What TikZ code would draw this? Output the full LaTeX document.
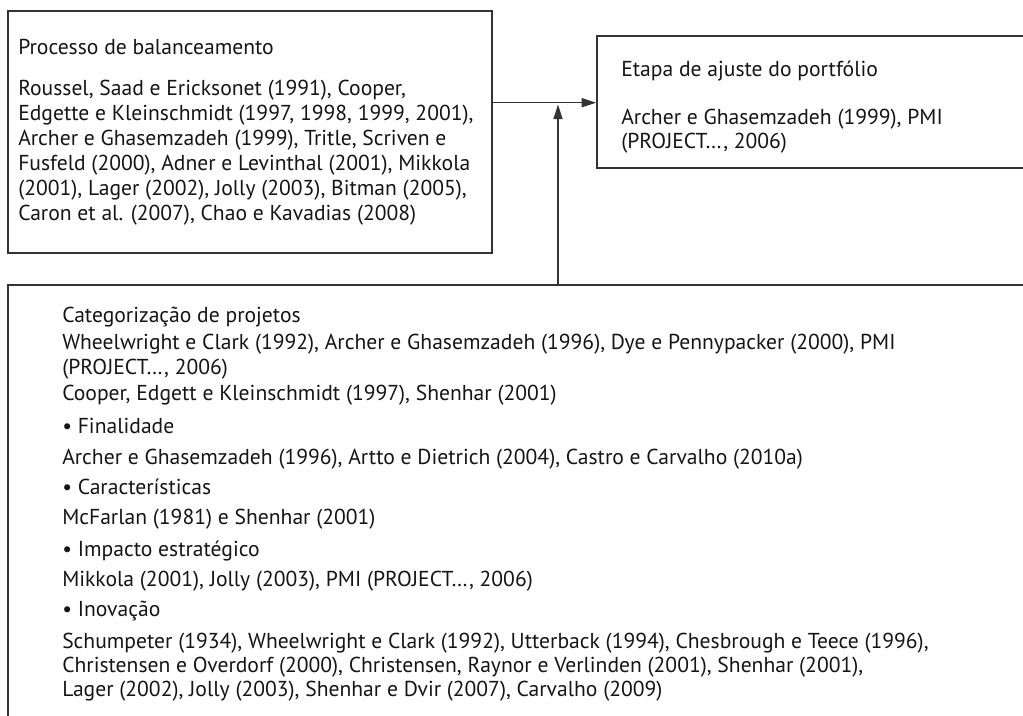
\documentclass[tikz,border=0pt]{standalone}
\usepackage{fontspec}
\setmainfont{PT Sans}
\usetikzlibrary{arrows.meta,fit}
\definecolor{linec}{HTML}{333333}
\definecolor{textc}{HTML}{151515}
\begin{document}
\begin{tikzpicture}[x=0.75pt,y=-0.75pt,
  box/.style={draw=linec, line width=1.15pt, inner sep=0pt},
  txt/.style={anchor=base west, inner sep=0pt, font=\fontsize{16.2}{19}\selectfont, text=textc},
  conn/.style={draw=linec, line width=1.15pt, -{Triangle[length=11pt,width=6.8pt]}}
]
\useasboundingbox (0,0) rectangle (1023,715);
\clip (0,0) rectangle (1023,715);
% box corners
\coordinate (b1nw) at (8,11);   \coordinate (b1se) at (492,253);
\coordinate (b2nw) at (597,36); \coordinate (b2se) at (1045,168);
\coordinate (b3nw) at (8,285);  \coordinate (b3se) at (1045,740);
\node[box, fit=(b1nw)(b1se)] (box1) {};
\node[box, fit=(b2nw)(b2se)] (box2) {};
\node[box, fit=(b3nw)(b3se)] (box3) {};
% box 1 text
\node[txt] (p0) at (18,54) {Processo de balanceamento};
\node[txt] (p1) at (18,95) {Roussel, Saad e Ericksonet (1991), Cooper,};
\node[txt] (p2) at (18,120) {Edgette e Kleinschmidt (1997, 1998, 1999, 2001),};
\node[txt] (p3) at (18,145) {Archer e Ghasemzadeh (1999), Tritle, Scriven e};
\node[txt] (p4) at (18,170) {Fusfeld (2000), Adner e Levinthal (2001), Mikkola};
\node[txt] (p5) at (18,195) {(2001), Lager (2002), Jolly (2003), Bitman (2005),};
\node[txt] (p6) at (18,220) {Caron et al. (2007), Chao e Kavadias (2008)};
% box 2 text
\node[txt] (e0) at (621,76) {Etapa de ajuste do portfólio};
\node[txt] (e1) at (621,124) {Archer e Ghasemzadeh (1999), PMI};
\node[txt] (e2) at (621,148) {(PROJECT…, 2006)};
% box 3 text
\node[txt] (c0) at (62,322) {Categorização de projetos};
\node[txt] (c1) at (62,349) {Wheelwright e Clark (1992), Archer e Ghasemzadeh (1996), Dye e Pennypacker (2000), PMI};
\node[txt] (c2) at (62,374) {(PROJECT…, 2006)};
\node[txt] (c3) at (62,400) {Cooper, Edgett e Kleinschmidt (1997), Shenhar (2001)};
\node[txt] (c4) at (62,433) {• Finalidade};
\node[txt] (c5) at (62,464) {Archer e Ghasemzadeh (1996), Artto e Dietrich (2004), Castro e Carvalho (2010a)};
\node[txt] (c6) at (62,494) {• Características};
\node[txt] (c7) at (62,524) {McFarlan (1981) e Shenhar (2001)};
\node[txt] (c8) at (62,556) {• Impacto estratégico};
\node[txt] (c9) at (62,586) {Mikkola (2001), Jolly (2003), PMI (PROJECT…, 2006)};
\node[txt] (c10) at (62,616) {• Inovação};
\node[txt] (c11) at (62,648) {Schumpeter (1934), Wheelwright e Clark (1992), Utterback (1994), Chesbrough e Teece (1996),};
\node[txt] (c12) at (62,672) {Christensen e Overdorf (2000), Christensen, Raynor e Verlinden (2001), Shenhar (2001),};
\node[txt] (c13) at (62,696) {Lager (2002), Jolly (2003), Shenhar e Dvir (2007), Carvalho (2009)};
% connectors
\coordinate (hline) at (0,102.7);
\coordinate (vtip) at (558,104.5);
\draw[conn] (box1.east |- hline) -- (box2.west |- hline);
\draw[conn] (vtip |- box3.north) -- (vtip);
\end{tikzpicture}
\end{document}
